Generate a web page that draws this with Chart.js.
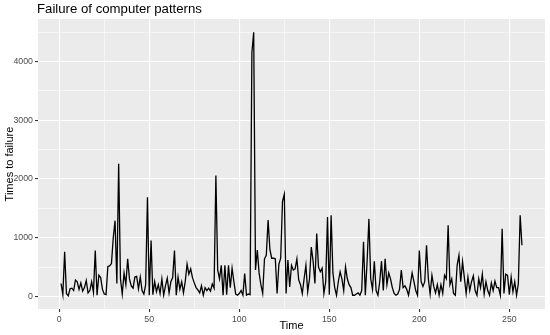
<!DOCTYPE html>
<html>
<head>
<meta charset="utf-8">
<script src="https://cdn.jsdelivr.net/npm/chart.js@4"></script>
<style>
  html, body { margin: 0; padding: 0; background: #fff; }
  canvas { display: block; }
</style>
</head>
<body>
<canvas id="myChart" width="550" height="335"></canvas>
<script>
// times to failure, one value per time step (1..257)
const failureTimes = [
  220, 30, 760, 50, 10, 130, 140, 100, 280, 250,
  120, 230, 90, 150, 270, 60, 100, 250, 70, 780,
  20, 360, 320, 120, 40, 30, 510, 520, 560, 1000,
  1290, 220, 2260, 300, 40, 400, 200, 640, 300, 180,
  140, 330, 340, 130, 330, 100, 40, 200, 1690, 20,
  950, 30, 250, 80, 200, 50, 300, 20, 180, 310,
  60, 250, 320, 780, 20, 330, 120, 250, 60, 260,
  550, 380, 470, 320, 230, 150, 110, 60, 180, 20,
  150, 100, 140, 90, 210, 140, 2060, 450, 300, 530,
  20, 530, 30, 530, 150, 480, 250, 40, 20, 50,
  100, 20, 390, 20, 40, 30, 4150, 4500, 450, 790,
  400, 200, 50, 640, 700, 1300, 800, 650, 650, 640,
  50, 550, 650, 1620, 1740, 50, 620, 160, 530, 450,
  470, 640, 280, 200, 50, 300, 530, 80, 300, 840,
  600, 220, 1070, 500, 420, 480, 50, 250, 1350, 30,
  1380, 400, 150, 20, 250, 420, 300, 100, 500, 300,
  200, 150, 20, 20, 40, 60, 20, 100, 930, 20,
  600, 1320, 300, 120, 600, 100, 20, 250, 600, 100,
  640, 200, 400, 300, 150, 50, 20, 40, 120, 450,
  150, 180, 120, 20, 200, 400, 250, 100, 20, 780,
  250, 170, 250, 870, 300, 40, 360, 170, 60, 200,
  20, 200, 50, 360, 300, 1210, 200, 300, 50, 20,
  530, 700, 250, 590, 320, 50, 330, 100, 250, 350,
  100, 20, 300, 150, 380, 40, 250, 100, 20, 230,
  100, 260, 150, 150, 20, 1150, 50, 380, 360, 30,
  330, 80, 250, 20, 220, 1380, 870
];
const timeIndex = failureTimes.map((_, i) => i + 1);

const xTicks = [0, 50, 100, 150, 200, 250];
const xMinorTicks = [25, 75, 125, 175, 225];
const yTicks = [0, 1000, 2000, 3000, 4000];
const yMinorTicks = [500, 1500, 2500, 3500, 4500];

const chartTitle = 'Failure of computer patterns';
const xLabel = 'Time';
const yLabel = 'Times to failure';

// ggplot style 5% expansion on both axes
function expand(values) {
  const lo = Math.min(...values), hi = Math.max(...values);
  const pad = (hi - lo) * 0.05;
  return { min: lo - pad, max: hi + pad };
}
const xRange = expand(timeIndex);
const yRange = expand(failureTimes);

const fontFamily = '"Liberation Sans", Arial, Helvetica, sans-serif';

const ggPanel = {
  id: 'ggPanel',
  beforeDraw(chart) {
    const { ctx, chartArea: a } = chart;
    ctx.save();
    ctx.fillStyle = '#EBEBEB';
    ctx.fillRect(a.left, a.top, a.right - a.left, a.bottom - a.top);
    ctx.restore();
  },
  afterDraw(chart) {
    const { ctx, chartArea: a } = chart;
    ctx.save();
    ctx.fillStyle = '#000';
    ctx.font = '13.2px ' + fontFamily;
    ctx.textAlign = 'left';
    ctx.textBaseline = 'alphabetic';
    ctx.fillText(chartTitle, a.left - 1, 13);
    ctx.restore();
  }
};

function gridOpts(major, minor) {
  return {
    color: '#FFFFFF',
    lineWidth: (c) => (c.tick && minor.includes(c.tick.value)) ? 0.55 : 1.1,
    tickColor: (c) => (c.tick && minor.includes(c.tick.value)) ? 'rgba(0,0,0,0)' : '#333333',
    tickWidth: 1.1,
    tickLength: 3,
    drawOnChartArea: true
  };
}

const ctx = document.getElementById('myChart').getContext('2d');
new Chart(ctx, {
  type: 'line',
  data: {
    datasets: [{
      data: timeIndex.map((t, i) => ({ x: t, y: failureTimes[i] })),
      borderColor: '#000000',
      borderWidth: 1.3,
      pointRadius: 0,
      tension: 0,
      fill: false
    }]
  },
  options: {
    responsive: false,
    animation: false,
    devicePixelRatio: 1,
    layout: { padding: { top: 19, right: 5, bottom: 0, left: 0 } },
    plugins: {
      legend: { display: false },
      title: { display: false },
      tooltip: { enabled: false }
    },
    scales: {
      x: {
        type: 'linear',
        min: xRange.min,
        max: xRange.max,
        border: { display: false },
        grid: gridOpts(xTicks, xMinorTicks),
        afterBuildTicks: (s) => {
          s.ticks = [...xTicks, ...xMinorTicks].sort((a, b) => a - b).map(v => ({ value: v }));
        },
        afterFit: (s) => { s.height = 26; },
        ticks: {
          autoSkip: false,
          maxRotation: 0,
          padding: 2,
          color: '#4D4D4D',
          font: { family: fontFamily, size: 8.8 },
          callback: (v) => xTicks.includes(v) ? String(v) : ''
        },
        title: {
          display: true,
          text: xLabel,
          color: '#000',
          font: { family: fontFamily, size: 11 },
          padding: { top: 0, bottom: 2.4 }
        }
      },
      y: {
        type: 'linear',
        min: yRange.min,
        max: yRange.max,
        border: { display: false },
        grid: gridOpts(yTicks, yMinorTicks),
        afterBuildTicks: (s) => {
          s.ticks = [...yTicks, ...yMinorTicks].sort((a, b) => a - b).map(v => ({ value: v }));
        },
        afterFit: (s) => { s.width = 38; },
        ticks: {
          autoSkip: false,
          padding: 2,
          color: '#4D4D4D',
          font: { family: fontFamily, size: 8.8 },
          callback: (v) => yTicks.includes(v) ? String(v) : ''
        },
        title: {
          display: true,
          text: yLabel,
          color: '#000',
          font: { family: fontFamily, size: 11 },
          padding: { top: 3, bottom: 0 }
        }
      }
    }
  },
  plugins: [ggPanel]
});
</script>
</body>
</html>
